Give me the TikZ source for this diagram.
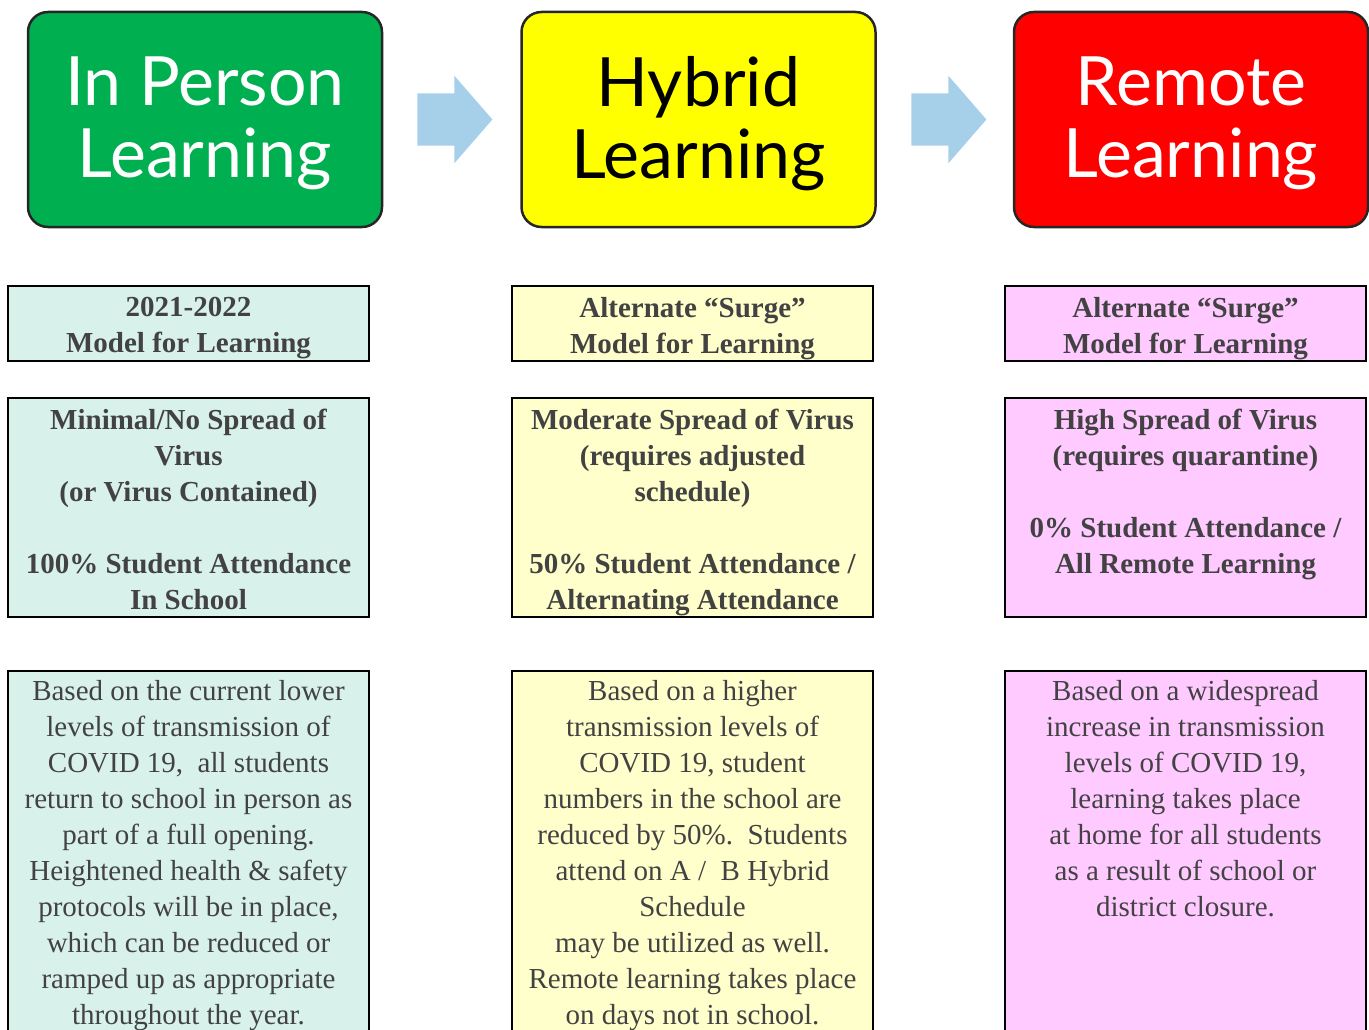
\documentclass[tikz,border=0pt]{standalone}
\usepackage{fontspec}
\setmainfont{Liberation Serif}
\newfontfamily\latofont{Lato}
\usetikzlibrary{positioning,shapes.arrows}
\definecolor{ingreen}{HTML}{00B050}
\definecolor{hybyellow}{HTML}{FFFF00}
\definecolor{remred}{HTML}{FF0000}
\definecolor{arrowblue}{HTML}{A6CFEA}
\definecolor{tealbg}{HTML}{D9F1EB}
\definecolor{paleyellow}{HTML}{FFFFCC}
\definecolor{palepink}{HTML}{FFCAFF}
\definecolor{txtgray}{HTML}{424242}
\tikzset{
  headbox/.style={draw=black!85,line width=2.5pt,rounded corners=20pt,minimum width=354pt,minimum height=215pt},
  headtxt/.style={align=center,inner sep=0pt,font=\latofont\fontsize{68}{72}\selectfont},
  cellbox/.style={draw=black,line width=2pt,minimum width=361pt},
  celltxt/.style={text=txtgray,align=center,inner sep=0pt,font=\fontsize{29}{36}\selectfont\bfseries},
  bodytxt/.style={text=txtgray,align=center,inner sep=0pt,font=\fontsize{29}{36}\selectfont},
  blockarrow/.style={single arrow,fill=arrowblue,draw=none,inner xsep=0pt,inner ysep=26pt,minimum height=75pt,single arrow head extend=17.5pt,single arrow tip angle=98}
}
\begin{document}
\begin{tikzpicture}[x=1pt,y=-1pt]
%\draw[step=50,thick](0,0) grid (1369,1030);
\useasboundingbox (0,0) rectangle (1369,1030);
\clip (0,0) rectangle (1369,1030);
\node[headbox,fill=ingreen] (inperson) at (205,119.5) {};
\node[headbox,fill=hybyellow] (hybrid) at (698.5,119.5) {};
\node[headbox,fill=remred] (remote) at (1191,119.5) {};
\node[headtxt,text=white] (inpersontxt) at ([yshift=-4pt]inperson.center) {In Person\\Learning};
\node[headtxt,text=black] (hybridtxt) at ([yshift=-4pt]hybrid.center) {Hybrid\\Learning};
\node[headtxt,text=white] (remotetxt) at ([yshift=-4pt]remote.center) {Remote\\Learning};
\node[blockarrow] (arr1) at (443.5,119.5) {};
\node[blockarrow] (arr2) at (937.5,119.5) {};
% model row
\node[cellbox,fill=tealbg,minimum height=75pt] (model1) at (188.5,323.5) {};
\node[cellbox,fill=paleyellow,minimum height=75pt] (model2) at (692.5,323.5) {};
\node[cellbox,fill=palepink,minimum height=75pt] (model3) at (1185.5,323.5) {};
\node[celltxt,below=12pt of model1.north] (modeltxt1) {2021-2022\\Model for Learning};
\node[celltxt,below=12pt of model2.north] (modeltxt2) {Alternate “Surge”\\Model for Learning};
\node[celltxt,below=12pt of model3.north] (modeltxt3) {Alternate “Surge”\\Model for Learning};
% spread row
\node[cellbox,fill=tealbg,minimum height=219pt] (spread1) at (188.5,507.5) {};
\node[cellbox,fill=paleyellow,minimum height=219pt] (spread2) at (692.5,507.5) {};
\node[cellbox,fill=palepink,minimum height=219pt] (spread3) at (1185.5,507.5) {};
\node[celltxt,below=12pt of spread1.north] (spreadtxt1) {Minimal/No Spread of\\Virus\\(or Virus Contained)\\[36pt]100\% Student Attendance\\In School};
\node[celltxt,below=12pt of spread2.north] (spreadtxt2) {Moderate Spread of Virus\\(requires adjusted\\schedule)\\[36pt]50\% Student Attendance /\\Alternating Attendance};
\node[celltxt,below=12pt of spread3.north] (spreadtxt3) {High Spread of Virus\\(requires quarantine)\\[36pt]0\% Student Attendance /\\All Remote Learning};
% description row
\node[cellbox,fill=tealbg,minimum height=400pt] (desc1) at (188.5,871) {};
\node[cellbox,fill=paleyellow,minimum height=400pt] (desc2) at (692.5,871) {};
\node[cellbox,fill=palepink,minimum height=400pt] (desc3) at (1185.5,871) {};
\node[bodytxt,below=10pt of desc1.north] (desctxt1) {Based on the current lower\\levels of transmission of\\COVID 19,\ \ all students\\return to school in person as\\part of a full opening.\\Heightened health \& safety\\protocols will be in place,\\which can be reduced or\\ramped up as appropriate\\throughout the year.};
\node[bodytxt,below=10pt of desc2.north] (desctxt2) {Based on a higher\\transmission levels of\\COVID 19, student\\numbers in the school are\\reduced by 50\%.\ \ Students\\attend on A /\ \ B Hybrid\\Schedule\\may be utilized as well.\\Remote learning takes place\\on days not in school.};
\node[bodytxt,below=10pt of desc3.north] (desctxt3) {Based on a widespread\\increase in transmission\\levels of COVID 19,\\learning takes place\\at home for all students\\as a result of school or\\district closure.};
\end{tikzpicture}
\end{document}
